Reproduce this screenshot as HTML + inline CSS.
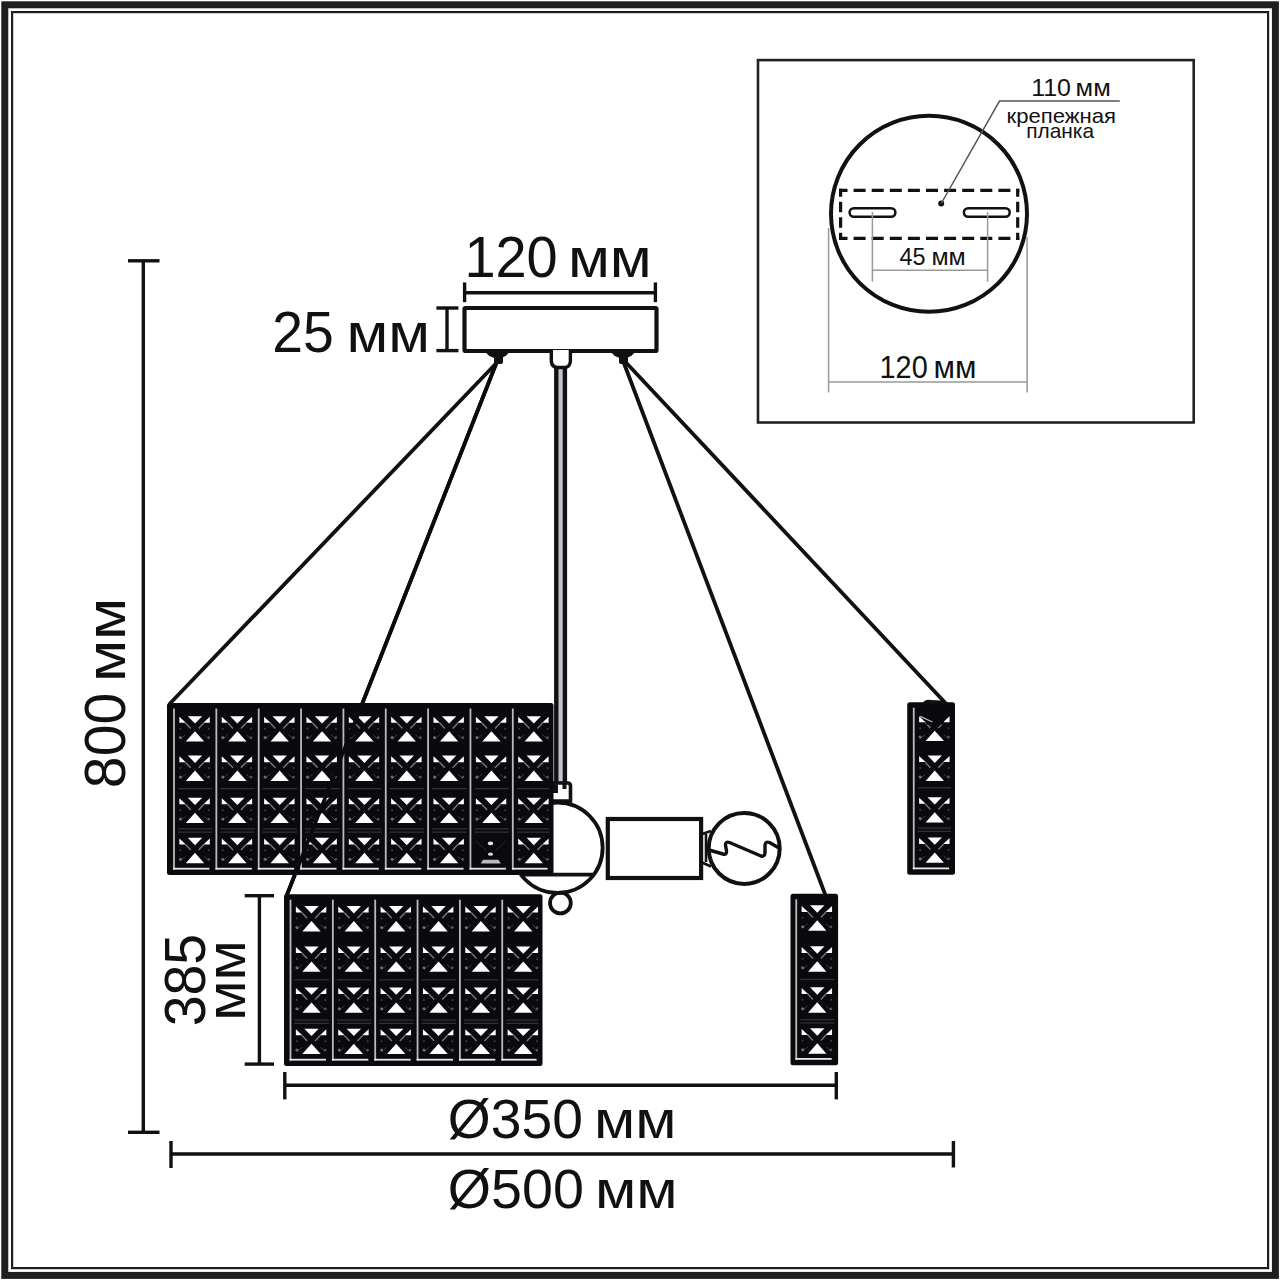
<!DOCTYPE html>
<html><head><meta charset="utf-8">
<style>
html,body{margin:0;padding:0;background:#fff;}
svg{display:block;}
text{font-family:"Liberation Sans",sans-serif;fill:#111114;}
</style></head><body>
<svg width="1280" height="1280" viewBox="0 0 1280 1280">
<defs>
<g id="cr">
<path d="M-7.2,0 L7.2,0 L0,7.4 Z" fill="#fff"/>
<path d="M-9.2,25.4 L9.2,25.4 L0,15 Z" fill="#fff"/>
<path d="M-15.6,0.6 L-15.6,6.6 L-9.2,6.6 Z" fill="#fff"/>
<path d="M14.8,0.6 L14.8,6.6 L8.4,6.6 Z" fill="#fff"/>
<path d="M-9.5,6.8 L-4.3,12.2 M8.8,6.8 L3.6,12.2" stroke="#fff" stroke-width="1.4" opacity="0.45"/>
<path d="M-14.5,23 L-9.5,18.5 M13.8,23 L8.8,18.5" stroke="#fff" stroke-width="1" opacity="0.2"/>
<circle cx="-14.6" cy="21.4" r="1.5" fill="#fff" opacity="0.4"/>
<circle cx="13.8" cy="21.4" r="1.3" fill="#fff" opacity="0.3"/>
<circle cx="-14.6" cy="12.5" r="1" fill="#fff" opacity="0.22"/>
<circle cx="13.8" cy="12.5" r="1" fill="#fff" opacity="0.22"/>
</g>
</defs>
<rect x="0" y="0" width="1280" height="1280" fill="#fff"/>
<!-- frame -->
<rect x="4.8" y="4.8" width="1270.6" height="1270.6" fill="none" stroke="#1e1e1c" stroke-width="7"/>
<rect x="12.1" y="12.1" width="1256" height="1256" fill="none" stroke="#1e1e1c" stroke-width="2.2"/>

<g stroke="#111114" stroke-width="3.8" fill="none" stroke-linecap="round">
<line x1="495.5" y1="364" x2="170" y2="703.5"/>
<line x1="496" y1="364" x2="286.5" y2="896"/>
<line x1="623.5" y1="362" x2="825" y2="894"/>
<line x1="625.5" y1="362" x2="945.4" y2="703"/>
</g>
<rect x="284" y="894.2" width="258.5" height="171.8" rx="2.5" fill="#0a0a0e"/>
<rect x="289.60" y="899.70" width="1.8" height="160.80" fill="#fff" opacity="0.72"/>
<rect x="289.60" y="1058.80" width="36.35" height="1.8" fill="#fff" opacity="0.9"/>
<rect x="294.50" y="979.20" width="34.35" height="1.3" fill="#fff" opacity="0.16"/>
<rect x="294.50" y="1019.40" width="34.35" height="1.3" fill="#fff" opacity="0.16"/>
<rect x="294.50" y="1022.70" width="34.35" height="1.3" fill="#fff" opacity="0.16"/>
<use href="#cr" x="311.50" y="906.00"/>
<use href="#cr" x="311.50" y="946.40"/>
<use href="#cr" x="311.50" y="987.40"/>
<use href="#cr" x="311.50" y="1028.70"/>
<rect x="331.95" y="899.70" width="1.8" height="160.80" fill="#fff" opacity="0.72"/>
<rect x="331.95" y="1058.80" width="36.35" height="1.8" fill="#fff" opacity="0.9"/>
<rect x="336.85" y="979.20" width="34.35" height="1.3" fill="#fff" opacity="0.16"/>
<rect x="336.85" y="1019.40" width="34.35" height="1.3" fill="#fff" opacity="0.16"/>
<rect x="336.85" y="1022.70" width="34.35" height="1.3" fill="#fff" opacity="0.16"/>
<use href="#cr" x="353.85" y="906.00"/>
<use href="#cr" x="353.85" y="946.40"/>
<use href="#cr" x="353.85" y="987.40"/>
<use href="#cr" x="353.85" y="1028.70"/>
<rect x="374.30" y="899.70" width="1.8" height="160.80" fill="#fff" opacity="0.72"/>
<rect x="374.30" y="1058.80" width="36.35" height="1.8" fill="#fff" opacity="0.9"/>
<rect x="379.20" y="979.20" width="34.35" height="1.3" fill="#fff" opacity="0.16"/>
<rect x="379.20" y="1019.40" width="34.35" height="1.3" fill="#fff" opacity="0.16"/>
<rect x="379.20" y="1022.70" width="34.35" height="1.3" fill="#fff" opacity="0.16"/>
<use href="#cr" x="396.20" y="906.00"/>
<use href="#cr" x="396.20" y="946.40"/>
<use href="#cr" x="396.20" y="987.40"/>
<use href="#cr" x="396.20" y="1028.70"/>
<rect x="416.65" y="899.70" width="1.8" height="160.80" fill="#fff" opacity="0.72"/>
<rect x="416.65" y="1058.80" width="36.35" height="1.8" fill="#fff" opacity="0.9"/>
<rect x="421.55" y="979.20" width="34.35" height="1.3" fill="#fff" opacity="0.16"/>
<rect x="421.55" y="1019.40" width="34.35" height="1.3" fill="#fff" opacity="0.16"/>
<rect x="421.55" y="1022.70" width="34.35" height="1.3" fill="#fff" opacity="0.16"/>
<use href="#cr" x="438.55" y="906.00"/>
<use href="#cr" x="438.55" y="946.40"/>
<use href="#cr" x="438.55" y="987.40"/>
<use href="#cr" x="438.55" y="1028.70"/>
<rect x="459.00" y="899.70" width="1.8" height="160.80" fill="#fff" opacity="0.72"/>
<rect x="459.00" y="1058.80" width="36.35" height="1.8" fill="#fff" opacity="0.9"/>
<rect x="463.90" y="979.20" width="34.35" height="1.3" fill="#fff" opacity="0.16"/>
<rect x="463.90" y="1019.40" width="34.35" height="1.3" fill="#fff" opacity="0.16"/>
<rect x="463.90" y="1022.70" width="34.35" height="1.3" fill="#fff" opacity="0.16"/>
<use href="#cr" x="480.90" y="906.00"/>
<use href="#cr" x="480.90" y="946.40"/>
<use href="#cr" x="480.90" y="987.40"/>
<use href="#cr" x="480.90" y="1028.70"/>
<rect x="501.35" y="899.70" width="1.8" height="160.80" fill="#fff" opacity="0.72"/>
<rect x="501.35" y="1058.80" width="35.25" height="1.8" fill="#fff" opacity="0.9"/>
<rect x="506.25" y="979.20" width="32.25" height="1.3" fill="#fff" opacity="0.16"/>
<rect x="506.25" y="1019.40" width="32.25" height="1.3" fill="#fff" opacity="0.16"/>
<rect x="506.25" y="1022.70" width="32.25" height="1.3" fill="#fff" opacity="0.16"/>
<use href="#cr" x="523.25" y="906.00"/>
<use href="#cr" x="523.25" y="946.40"/>
<use href="#cr" x="523.25" y="987.40"/>
<use href="#cr" x="523.25" y="1028.70"/>
<rect x="907.2" y="702.2" width="47.8" height="172.5" rx="2.5" fill="#0a0a0e"/>
<rect x="912.85" y="707.70" width="1.8" height="161.50" fill="#fff" opacity="0.72"/>
<rect x="912.85" y="867.50" width="36.25" height="1.8" fill="#fff" opacity="0.9"/>
<rect x="917.75" y="787.20" width="33.25" height="1.3" fill="#fff" opacity="0.16"/>
<rect x="917.75" y="827.40" width="33.25" height="1.3" fill="#fff" opacity="0.16"/>
<rect x="917.75" y="830.70" width="33.25" height="1.3" fill="#fff" opacity="0.16"/>
<use href="#cr" x="934.75" y="715.70"/>
<use href="#cr" x="934.75" y="755.50"/>
<use href="#cr" x="934.75" y="797.20"/>
<use href="#cr" x="934.75" y="837.40"/>
<rect x="790.5" y="893.8" width="47.6" height="171.4" rx="2.5" fill="#0a0a0e"/>
<rect x="795.35" y="899.30" width="1.8" height="160.40" fill="#fff" opacity="0.72"/>
<rect x="795.35" y="1058.00" width="36.35" height="1.8" fill="#fff" opacity="0.9"/>
<rect x="800.25" y="978.80" width="33.85" height="1.3" fill="#fff" opacity="0.16"/>
<rect x="800.25" y="1019.00" width="33.85" height="1.3" fill="#fff" opacity="0.16"/>
<rect x="800.25" y="1022.30" width="33.85" height="1.3" fill="#fff" opacity="0.16"/>
<use href="#cr" x="817.25" y="905.30"/>
<use href="#cr" x="817.25" y="946.30"/>
<use href="#cr" x="817.25" y="987.30"/>
<use href="#cr" x="817.25" y="1028.30"/>
<rect x="464.5" y="308" width="192" height="43" fill="#fff" stroke="#111114" stroke-width="4.2" rx="1"/>
<path d="M485,350 Q487,357.5 497.5,358.5 Q508,357.5 510,350 Z" fill="#111114"/>
<rect x="494" y="355" width="9" height="9" rx="2" fill="#111114"/>
<path d="M610.5,350 Q612.5,357.5 623,358.5 Q633.5,357.5 635.5,350 Z" fill="#111114"/>
<rect x="619" y="355" width="9" height="9" rx="2" fill="#111114"/>
<rect x="556.3" y="366" width="8.6" height="418" fill="#c4c4ca" stroke="#111114" stroke-width="4.4"/>
<path d="M551.3,350 L551.3,361 Q551.8,367 557,367.5 L565,367.5 Q570,367 570.4,361 L570.4,350" fill="#fff" stroke="#111114" stroke-width="3.4"/>
<circle cx="560.4" cy="903" r="10.4" fill="#fff" stroke="#111114" stroke-width="3.8"/>
<circle cx="557.4" cy="847.75" r="45.25" fill="#fff" stroke="#111114" stroke-width="3.8"/>
<line x1="521" y1="874.7" x2="594" y2="874.7" stroke="#111114" stroke-width="3.8"/>
<path d="M550,801 L550,783 L567.5,783 Q570.5,783 570.5,786 L570.5,801 Z" fill="#fff" stroke="#111114" stroke-width="3.6"/>
<rect x="552" y="784" width="6" height="9" fill="#111114"/>
<rect x="562.5" y="784" width="4" height="5" fill="#111114"/>
<rect x="607.8" y="819" width="93.3" height="59" fill="#fff" stroke="#111114" stroke-width="4.2"/>
<path d="M702,834 L711,831 M702,862.5 L711,866.5 M706,834 L706,862" stroke="#111114" stroke-width="2.6" fill="none"/>
<circle cx="744.2" cy="848.4" r="35.5" fill="#fff" stroke="#111114" stroke-width="4"/>
<path d="M709,850 L723,854 Q727,855 726.5,851 L725.5,845 Q725.5,841 729.5,842.5 L761,856 Q764.5,857 765,853 L765,845 Q765.5,841 769.5,842.5 L779,848" fill="none" stroke="#111114" stroke-width="3.4" stroke-linejoin="round" stroke-linecap="round"/>
<rect x="167" y="703" width="386.5" height="172" rx="2.5" fill="#0a0a0e"/>
<rect x="173.10" y="708.50" width="1.8" height="161.00" fill="#fff" opacity="0.72"/>
<rect x="173.10" y="867.80" width="36.35" height="1.8" fill="#fff" opacity="0.9"/>
<rect x="178.00" y="788.00" width="34.35" height="1.3" fill="#fff" opacity="0.16"/>
<rect x="178.00" y="828.20" width="34.35" height="1.3" fill="#fff" opacity="0.16"/>
<rect x="178.00" y="831.50" width="34.35" height="1.3" fill="#fff" opacity="0.16"/>
<use href="#cr" x="195.00" y="716.20"/>
<use href="#cr" x="195.00" y="755.60"/>
<use href="#cr" x="195.00" y="797.70"/>
<use href="#cr" x="195.00" y="837.80"/>
<rect x="215.45" y="708.50" width="1.8" height="161.00" fill="#fff" opacity="0.72"/>
<rect x="215.45" y="867.80" width="36.35" height="1.8" fill="#fff" opacity="0.9"/>
<rect x="220.35" y="788.00" width="34.35" height="1.3" fill="#fff" opacity="0.16"/>
<rect x="220.35" y="828.20" width="34.35" height="1.3" fill="#fff" opacity="0.16"/>
<rect x="220.35" y="831.50" width="34.35" height="1.3" fill="#fff" opacity="0.16"/>
<use href="#cr" x="237.35" y="716.20"/>
<use href="#cr" x="237.35" y="755.60"/>
<use href="#cr" x="237.35" y="797.70"/>
<use href="#cr" x="237.35" y="837.80"/>
<rect x="257.80" y="708.50" width="1.8" height="161.00" fill="#fff" opacity="0.72"/>
<rect x="257.80" y="867.80" width="36.35" height="1.8" fill="#fff" opacity="0.9"/>
<rect x="262.70" y="788.00" width="34.35" height="1.3" fill="#fff" opacity="0.16"/>
<rect x="262.70" y="828.20" width="34.35" height="1.3" fill="#fff" opacity="0.16"/>
<rect x="262.70" y="831.50" width="34.35" height="1.3" fill="#fff" opacity="0.16"/>
<use href="#cr" x="279.70" y="716.20"/>
<use href="#cr" x="279.70" y="755.60"/>
<use href="#cr" x="279.70" y="797.70"/>
<use href="#cr" x="279.70" y="837.80"/>
<rect x="300.15" y="708.50" width="1.8" height="161.00" fill="#fff" opacity="0.72"/>
<rect x="300.15" y="867.80" width="36.35" height="1.8" fill="#fff" opacity="0.9"/>
<rect x="305.05" y="788.00" width="34.35" height="1.3" fill="#fff" opacity="0.16"/>
<rect x="305.05" y="828.20" width="34.35" height="1.3" fill="#fff" opacity="0.16"/>
<rect x="305.05" y="831.50" width="34.35" height="1.3" fill="#fff" opacity="0.16"/>
<use href="#cr" x="322.05" y="716.20"/>
<use href="#cr" x="322.05" y="755.60"/>
<use href="#cr" x="322.05" y="797.70"/>
<use href="#cr" x="322.05" y="837.80"/>
<rect x="342.50" y="708.50" width="1.8" height="161.00" fill="#fff" opacity="0.72"/>
<rect x="342.50" y="867.80" width="36.35" height="1.8" fill="#fff" opacity="0.9"/>
<rect x="347.40" y="788.00" width="34.35" height="1.3" fill="#fff" opacity="0.16"/>
<rect x="347.40" y="828.20" width="34.35" height="1.3" fill="#fff" opacity="0.16"/>
<rect x="347.40" y="831.50" width="34.35" height="1.3" fill="#fff" opacity="0.16"/>
<use href="#cr" x="364.40" y="716.20"/>
<use href="#cr" x="364.40" y="755.60"/>
<use href="#cr" x="364.40" y="797.70"/>
<use href="#cr" x="364.40" y="837.80"/>
<rect x="384.85" y="708.50" width="1.8" height="161.00" fill="#fff" opacity="0.72"/>
<rect x="384.85" y="867.80" width="36.35" height="1.8" fill="#fff" opacity="0.9"/>
<rect x="389.75" y="788.00" width="34.35" height="1.3" fill="#fff" opacity="0.16"/>
<rect x="389.75" y="828.20" width="34.35" height="1.3" fill="#fff" opacity="0.16"/>
<rect x="389.75" y="831.50" width="34.35" height="1.3" fill="#fff" opacity="0.16"/>
<use href="#cr" x="406.75" y="716.20"/>
<use href="#cr" x="406.75" y="755.60"/>
<use href="#cr" x="406.75" y="797.70"/>
<use href="#cr" x="406.75" y="837.80"/>
<rect x="427.20" y="708.50" width="1.8" height="161.00" fill="#fff" opacity="0.72"/>
<rect x="427.20" y="867.80" width="36.35" height="1.8" fill="#fff" opacity="0.9"/>
<rect x="432.10" y="788.00" width="34.35" height="1.3" fill="#fff" opacity="0.16"/>
<rect x="432.10" y="828.20" width="34.35" height="1.3" fill="#fff" opacity="0.16"/>
<rect x="432.10" y="831.50" width="34.35" height="1.3" fill="#fff" opacity="0.16"/>
<use href="#cr" x="449.10" y="716.20"/>
<use href="#cr" x="449.10" y="755.60"/>
<use href="#cr" x="449.10" y="797.70"/>
<use href="#cr" x="449.10" y="837.80"/>
<rect x="469.55" y="708.50" width="1.8" height="161.00" fill="#fff" opacity="0.72"/>
<rect x="469.55" y="867.80" width="36.35" height="1.8" fill="#fff" opacity="0.9"/>
<rect x="474.45" y="788.00" width="34.35" height="1.3" fill="#fff" opacity="0.16"/>
<rect x="474.45" y="828.20" width="34.35" height="1.3" fill="#fff" opacity="0.16"/>
<rect x="474.45" y="831.50" width="34.35" height="1.3" fill="#fff" opacity="0.16"/>
<use href="#cr" x="491.45" y="716.20"/>
<use href="#cr" x="491.45" y="755.60"/>
<use href="#cr" x="491.45" y="797.70"/>
<use href="#cr" x="491.45" y="837.80"/>
<rect x="511.90" y="708.50" width="1.8" height="161.00" fill="#fff" opacity="0.72"/>
<rect x="511.90" y="867.80" width="35.70" height="1.8" fill="#fff" opacity="0.9"/>
<rect x="516.80" y="788.00" width="32.70" height="1.3" fill="#fff" opacity="0.16"/>
<rect x="516.80" y="828.20" width="32.70" height="1.3" fill="#fff" opacity="0.16"/>
<rect x="516.80" y="831.50" width="32.70" height="1.3" fill="#fff" opacity="0.16"/>
<use href="#cr" x="533.80" y="716.20"/>
<use href="#cr" x="533.80" y="755.60"/>
<use href="#cr" x="533.80" y="797.70"/>
<use href="#cr" x="533.80" y="837.80"/>
<rect x="474" y="835" width="34" height="31" fill="#0a0a0e"/>
<ellipse cx="490.5" cy="843.4" rx="2.8" ry="1.8" fill="#fff" opacity="0.9"/>
<ellipse cx="490.5" cy="854.2" rx="2.6" ry="1.6" fill="#fff" opacity="0.85"/>
<path d="M483,859.8 L498.5,859.8 L500.8,863.6 L480.8,863.6 Z" fill="#bbb"/>
<path d="M476,841 L487,851 M506,841 L495,851" stroke="#fff" stroke-width="1" opacity="0.12"/>
<line x1="496" y1="364" x2="286.5" y2="896" stroke="#0a0a0e" stroke-width="3.6"/>
<rect x="926" y="714" width="18" height="10.5" fill="#0a0a0e"/>
<line x1="920.3" y1="716.3" x2="932.5" y2="722" stroke="#fff" stroke-width="1.3" opacity="0.7"/>
<path d="M922,703.5 Q925,698.5 931,700 L941,700.5 Q946,701 948,703.5 Z" fill="#111114"/>
<g stroke="#111114" stroke-width="3.4" fill="none">
<line x1="143.3" y1="261" x2="143.3" y2="1132.3"/>
<line x1="128" y1="260.8" x2="159.5" y2="260.8"/>
<line x1="128" y1="1132.3" x2="159.5" y2="1132.3"/>
<line x1="171" y1="1154" x2="953.4" y2="1154"/>
<line x1="171" y1="1141" x2="171" y2="1168"/>
<line x1="953.4" y1="1141" x2="953.4" y2="1167.5"/>
<line x1="284.8" y1="1085.3" x2="836.3" y2="1085.3"/>
<line x1="284.8" y1="1072" x2="284.8" y2="1099.4"/>
<line x1="836.3" y1="1072" x2="836.3" y2="1099.4"/>
<line x1="259.4" y1="895.7" x2="259.4" y2="1064.1"/>
<line x1="244.7" y1="895.7" x2="274" y2="895.7"/>
<line x1="244.7" y1="1064.1" x2="274" y2="1064.1"/>
<line x1="464.6" y1="292.7" x2="655.4" y2="292.7"/>
<line x1="464.6" y1="282.4" x2="464.6" y2="302.2"/>
<line x1="655.4" y1="282.4" x2="655.4" y2="302.2"/>
<line x1="447" y1="308" x2="447" y2="350.6"/>
<line x1="436.4" y1="308" x2="458.5" y2="308"/>
<line x1="436.4" y1="350.6" x2="458.5" y2="350.6"/>
</g>
<text x="464.40" y="277.30" font-size="56.90" textLength="93.35" lengthAdjust="spacingAndGlyphs">120</text>
<text x="567.93" y="277.30" font-size="56.00" textLength="83.84" lengthAdjust="spacingAndGlyphs">мм</text>
<text x="272.24" y="351.80" font-size="57.90" textLength="61.51" lengthAdjust="spacingAndGlyphs">25</text>
<text x="346.45" y="351.80" font-size="55.10" textLength="83.50" lengthAdjust="spacingAndGlyphs">мм</text>
<text x="447.87" y="1137.90" font-size="55.90" textLength="135.01" lengthAdjust="spacingAndGlyphs">Ø350</text>
<text x="594.00" y="1137.90" font-size="53.60" textLength="82.44" lengthAdjust="spacingAndGlyphs">мм</text>
<text x="447.85" y="1207.90" font-size="55.90" textLength="136.04" lengthAdjust="spacingAndGlyphs">Ø500</text>
<text x="594.99" y="1207.90" font-size="53.60" textLength="82.61" lengthAdjust="spacingAndGlyphs">мм</text>
<text transform="translate(124.70,785.60) rotate(-90)" x="-2.57" y="0" font-size="57.60" textLength="95.37" lengthAdjust="spacingAndGlyphs">800</text>
<text transform="translate(124.70,677.80) rotate(-90)" x="-4.30" y="0" font-size="56.00" textLength="84.39" lengthAdjust="spacingAndGlyphs">мм</text>
<text transform="translate(204.90,1024.10) rotate(-90)" x="-2.22" y="0" font-size="57.40" textLength="92.48" lengthAdjust="spacingAndGlyphs">385</text>
<text transform="translate(244.80,1016.70) rotate(-90)" x="-4.11" y="0" font-size="55.30" textLength="80.83" lengthAdjust="spacingAndGlyphs">мм</text>
<rect x="758" y="60.1" width="435.7" height="362.4" fill="none" stroke="#222" stroke-width="2.6"/>
<circle cx="929" cy="213.8" r="98" fill="none" stroke="#111114" stroke-width="4"/>
<g stroke="#111114" stroke-width="3.2" fill="none">
<line x1="839" y1="190.3" x2="1019.3" y2="190.3" stroke-dasharray="12 6.1" stroke-dashoffset="3.5"/>
<line x1="839" y1="238.4" x2="1019.3" y2="238.4" stroke-dasharray="12 6.1" stroke-dashoffset="3.5"/>
<line x1="840.6" y1="188.7" x2="840.6" y2="240" stroke-dasharray="10.5 5" stroke-dashoffset="2.4"/>
<line x1="1017.7" y1="188.7" x2="1017.7" y2="240" stroke-dasharray="10.5 5" stroke-dashoffset="2.4"/>
</g>
<rect x="849.6" y="208.2" width="45.8" height="8.6" rx="4.3" fill="#fff" stroke="#111114" stroke-width="2.5"/>
<rect x="963.9" y="208.2" width="45.8" height="8.6" rx="4.3" fill="#fff" stroke="#111114" stroke-width="2.5"/>
<circle cx="941.2" cy="203.5" r="3" fill="#111114"/>
<g stroke="#999" stroke-width="1.5" fill="none">
<polyline points="941.2,203.5 999.5,101.1 1119.8,101.1" stroke="#555"/>
<line x1="872.4" y1="212" x2="872.4" y2="281.7"/>
<line x1="987.6" y1="212" x2="987.6" y2="281.7"/>
<line x1="872.4" y1="270.2" x2="987.6" y2="270.2"/>
<line x1="828.6" y1="228" x2="828.6" y2="392.5"/>
<line x1="1027.1" y1="237" x2="1027.1" y2="392.5"/>
<line x1="828.6" y1="382" x2="1027.1" y2="382"/>
</g>
<text x="899.41" y="265.20" font-size="24.50" textLength="26.08" lengthAdjust="spacingAndGlyphs">45</text>
<text x="931.45" y="265.20" font-size="23.80" textLength="34.29" lengthAdjust="spacingAndGlyphs">мм</text>
<text x="879.53" y="378.30" font-size="30.90" textLength="48.18" lengthAdjust="spacingAndGlyphs">120</text>
<text x="933.41" y="378.30" font-size="30.60" textLength="42.98" lengthAdjust="spacingAndGlyphs">мм</text>
<text x="1031.23" y="95.90" font-size="24.60" textLength="39.75" lengthAdjust="spacingAndGlyphs">110</text>
<text x="1075.61" y="95.90" font-size="23.90" textLength="35.18" lengthAdjust="spacingAndGlyphs">мм</text>
<text x="1006.57" y="122.50" font-size="20.20" textLength="109.38" lengthAdjust="spacingAndGlyphs">крепежная</text>
<text x="1026.24" y="138.10" font-size="20.20" textLength="67.74" lengthAdjust="spacingAndGlyphs">планка</text>
</svg></body></html>
